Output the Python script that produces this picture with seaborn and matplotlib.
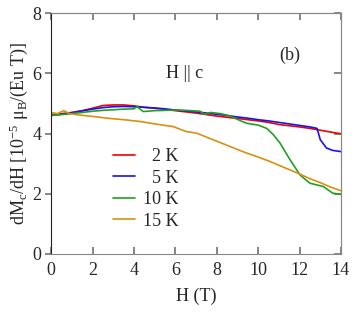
"dM/dH vs H for H || c"

# Importing Libraries
import numpy as np
import pandas as pd
import matplotlib
matplotlib.use('Agg')
import matplotlib.pyplot as plt
import seaborn as sns

# Data
H_2K = [0, 0.5, 1, 1.5, 2, 2.5, 3, 3.5, 4, 4.5, 5, 5.5, 6, 6.5, 7, 7.5, 8, 8.5,
        9, 9.5, 10, 10.5, 11, 11.5, 12, 12.5, 13, 13.5, 14]
M_2K = [4.62, 4.66, 4.70, 4.76, 4.84, 4.93, 4.95, 4.95, 4.92, 4.87, 4.84, 4.80,
        4.76, 4.72, 4.68, 4.63, 4.58, 4.54, 4.50, 4.46, 4.42, 4.37, 4.30, 4.26,
        4.22, 4.17, 4.11, 4.05, 3.99]

H_5K = [0, 0.5, 1, 1.5, 2, 2.5, 3, 3.5, 4, 4.5, 5, 5.5, 6, 6.5, 7, 7.5, 8, 8.5,
        9, 9.5, 10, 10.5, 11, 11.5, 12, 12.5, 12.85, 13.0, 13.3, 13.6, 14]
M_5K = [4.60, 4.64, 4.69, 4.75, 4.81, 4.86, 4.89, 4.90, 4.89, 4.87, 4.85, 4.82,
        4.78, 4.75, 4.72, 4.68, 4.64, 4.60, 4.55, 4.51, 4.46, 4.42, 4.37, 4.32,
        4.27, 4.22, 4.17, 3.80, 3.52, 3.44, 3.40]

H_10K = [0, 0.5, 1, 1.5, 2, 2.5, 3, 3.5, 4, 4.15, 4.45, 5, 5.5, 6, 6.5, 7.2, 7.4,
         7.7, 8.2, 8.65, 9, 9.45, 10, 10.42, 10.75, 11.06, 11.55, 12.03, 12.5,
         13.15, 13.6, 14]
M_10K = [4.60, 4.63, 4.66, 4.70, 4.74, 4.77, 4.79, 4.81, 4.82, 4.89, 4.73, 4.76,
         4.77, 4.78, 4.77, 4.74, 4.64, 4.70, 4.66, 4.58, 4.47, 4.34, 4.28, 4.17,
         3.95, 3.68, 3.12, 2.62, 2.35, 2.24, 2.02, 1.98]

H_15K = [0, 0.3, 0.6, 0.9, 1.3, 2, 2.7, 3.5, 4.3, 5.1, 5.9, 6.5, 7.04, 7.84, 8.6,
         9.45, 10, 10.58, 11.3, 12.03, 12.5, 13, 13.5, 14]
M_15K = [4.70, 4.66, 4.76, 4.66, 4.62, 4.57, 4.51, 4.46, 4.40, 4.31, 4.23, 4.07,
         4.01, 3.79, 3.58, 3.35, 3.22, 3.07, 2.86, 2.65, 2.50, 2.37, 2.22, 2.10]

labels = ['\u20022 K', '\u20025 K', '10 K', '15 K']
colors = ['#f00000', '#1414f0', '#22a022', '#d8900f']

# Long-form DataFrame
frames = []
for lab, h, m in zip(labels, [H_2K, H_5K, H_10K, H_15K], [M_2K, M_5K, M_10K, M_15K]):
    frames.append(pd.DataFrame({'H': h, 'dM': m, 'T': lab}))
df = pd.concat(frames, ignore_index=True)

# Style
sns.set_style('ticks')
plt.rcParams['font.family'] = ['Liberation Serif', 'DejaVu Serif']
plt.rcParams['mathtext.fontset'] = 'custom'
plt.rcParams['mathtext.rm'] = 'Liberation Serif'
plt.rcParams['mathtext.it'] = 'Liberation Serif:italic'

fig = plt.figure(figsize=(3.6, 3.12), dpi=100)
ax = fig.add_axes([0.142, 0.186, 0.805, 0.772])

sns.lineplot(data=df, x='H', y='dM', hue='T', palette=dict(zip(labels, colors)),
             sort=False, estimator=None, linewidth=1.2, ax=ax)

ax.set_xlim(0, 14)
ax.set_ylim(0, 8)
ax.set_xticks(np.arange(0, 15, 2))
ax.set_yticks(np.arange(0, 9, 2))

# Spines and ticks: left ticks out, the rest point inward
for side in ['top', 'right', 'bottom']:
    ax.spines[side].set_color('#888888')
ax.spines['left'].set_color('#222222')
ax.tick_params(axis='x', direction='in', length=5, width=1.1, color='#666666',
               bottom=True, labelsize=13, pad=6)
ax.tick_params(axis='y', direction='out', length=4, width=1.1, color='#666666',
               left=True, labelsize=13, pad=3)

top = ax.secondary_xaxis('top')
top.set_xticks(np.arange(0, 15, 2))
top.tick_params(direction='in', length=5, width=1.1, color='#666666', labeltop=False)
top.spines['top'].set_color('#888888')

right = ax.secondary_yaxis('right')
right.set_yticks(np.arange(0, 9, 2))
right.tick_params(direction='in', length=5, width=1.1, color='#666666', labelright=False)
right.spines['right'].set_color('#888888')

ax.set_xlabel('H (T)', fontsize=13, labelpad=6)
ax.set_ylabel('dM$_\\mathrm{c}$/dH [10$^{-5}$ μ$_\\mathrm{B}$/(Eu T)]', fontsize=13, labelpad=2)

ax.text(0.46, 0.75, 'H || c', transform=ax.transAxes, fontsize=13, ha='center', va='center')
ax.text(0.824, 0.826, '(b)', transform=ax.transAxes, fontsize=13, ha='center', va='center')

leg = ax.legend(loc='upper left', bbox_to_anchor=(0.215, 0.44), frameon=False,
                fontsize=13, handlelength=1.2, handletextpad=0.45, labelspacing=0.25,
                borderaxespad=0, borderpad=0)

plt.savefig('out.png', dpi=100)
